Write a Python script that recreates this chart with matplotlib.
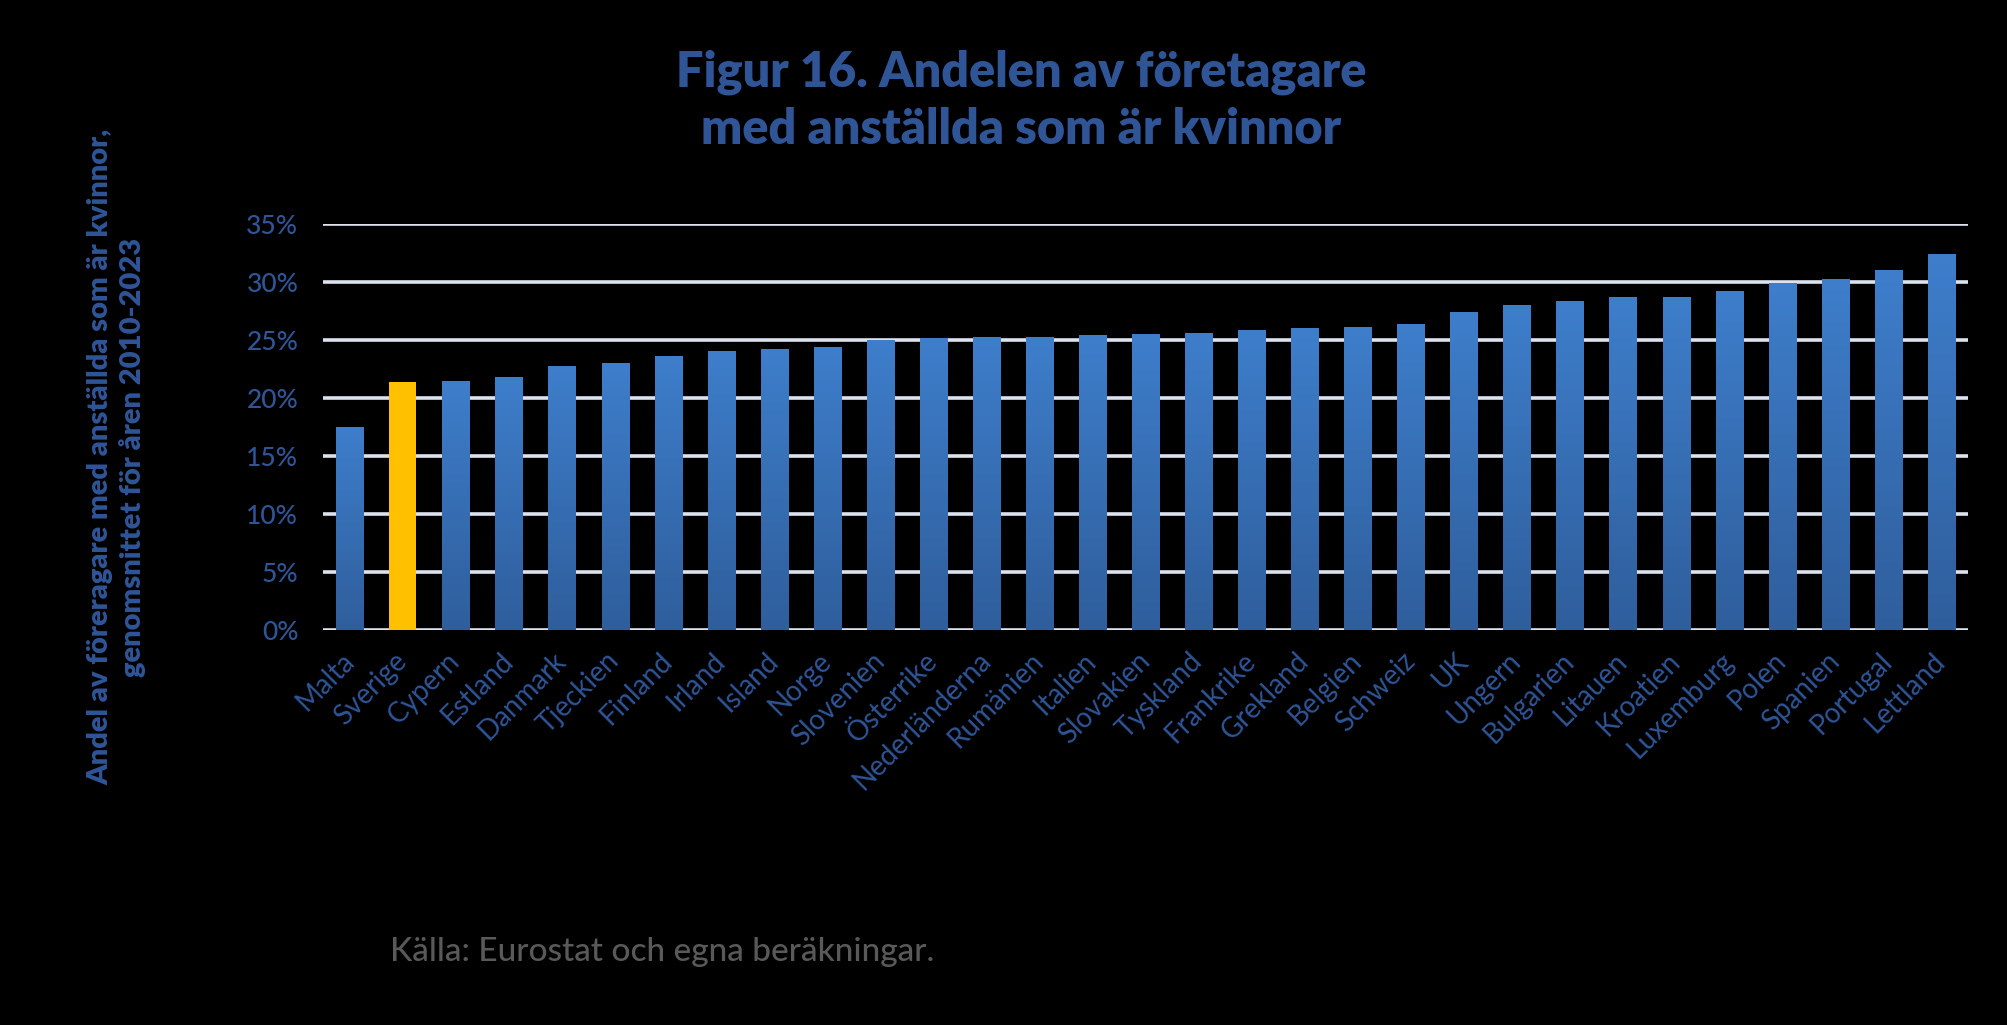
import numpy as np
import matplotlib
matplotlib.use('Agg')
import matplotlib.pyplot as plt
from matplotlib.colors import LinearSegmentedColormap

plt.rcParams['font.family'] = ['Lato', 'DejaVu Sans']

# data (percent)
countries = ['Malta', 'Sverige', 'Cypern', 'Estland', 'Danmark', 'Tjeckien', 'Finland',
             'Irland', 'Island', 'Norge', 'Slovenien', 'Österrike', 'Nederländerna',
             'Rumänien', 'Italien', 'Slovakien', 'Tyskland', 'Frankrike', 'Grekland',
             'Belgien', 'Schweiz', 'UK', 'Ungern', 'Bulgarien', 'Litauen', 'Kroatien',
             'Luxemburg', 'Polen', 'Spanien', 'Portugal', 'Lettland']
shares = [17.5, 21.4, 21.5, 21.8, 22.8, 23.0, 23.6,
          24.1, 24.2, 24.4, 25.0, 25.2, 25.3,
          25.3, 25.4, 25.5, 25.6, 25.9, 26.0,
          26.1, 26.4, 27.4, 28.0, 28.4, 28.7, 28.7,
          29.2, 29.9, 30.3, 31.0, 32.4]
yticks = [0, 5, 10, 15, 20, 25, 30, 35]
highlight = 'Sverige'

txt_blue = '#2F5597'
bar_top = '#3E7ECB'
bar_bottom = '#2F5E9C'
yellow = '#FFC000'

fig = plt.figure(figsize=(20.08, 10.25), dpi=100, facecolor='black')
ax = fig.add_axes([0.161, 0.385, 0.819, 0.3965])
ax.set_facecolor('black')

x = np.arange(len(countries))
bars = ax.bar(x, shares, width=0.51, color=bar_bottom, zorder=3)

# vertical gradient inside each blue bar
cmap = LinearSegmentedColormap.from_list('bargrad', [bar_bottom, bar_top])
grad = np.linspace(0, 1, 256).reshape(-1, 1)
for name, b in zip(countries, bars):
    if name == highlight:
        b.set_facecolor(yellow)
        continue
    x0, w, h = b.get_x(), b.get_width(), b.get_height()
    im = ax.imshow(grad, cmap=cmap, origin='lower', aspect='auto',
                   extent=[x0, x0 + w, 0, h], zorder=3)
    im.set_clip_path(b)
    b.set_facecolor('none')

ax.set_xlim(-0.5, len(countries) - 0.5)
ax.set_ylim(0, 35)

ax.set_yticks(yticks)
ax.set_yticklabels([f'{v}%' for v in yticks], fontsize=19, color=txt_blue,
                   fontweight='medium')
ax.set_xticks(x)
ax.set_xticklabels(countries, fontsize=20, color=txt_blue, rotation=45,
                   ha='right', va='center', rotation_mode='anchor')
ax.tick_params(axis='y', length=0, pad=18)
ax.tick_params(axis='x', length=0, pad=19)

ax.set_axisbelow(True)
ax.yaxis.grid(True, color='#DCE3EE', linewidth=2.6, zorder=0)
for s in ax.spines.values():
    s.set_visible(False)

fig.text(0.5085, 1 - 101 / 1025, 'Figur 16. Andelen av företagare\nmed anställda som är kvinnor',
         ha='center', va='center', fontsize=35, fontweight='heavy', color=txt_blue,
         linespacing=1.33)

fig.text(117 / 2008, 1 - 457 / 1025,
         'Andel av föreragare med anställda som är kvinnor,\ngenomsnittet för åren 2010-2023',
         ha='center', va='center', rotation=90, fontsize=21, fontweight='heavy',
         color=txt_blue, linespacing=1.25)

fig.text(390 / 2008, 1 - 952 / 1025, 'Källa: Eurostat och egna beräkningar.',
         ha='left', va='center', fontsize=24, fontweight='medium', color='#595959')

fig.savefig('out.png', dpi=100, facecolor=fig.get_facecolor())
